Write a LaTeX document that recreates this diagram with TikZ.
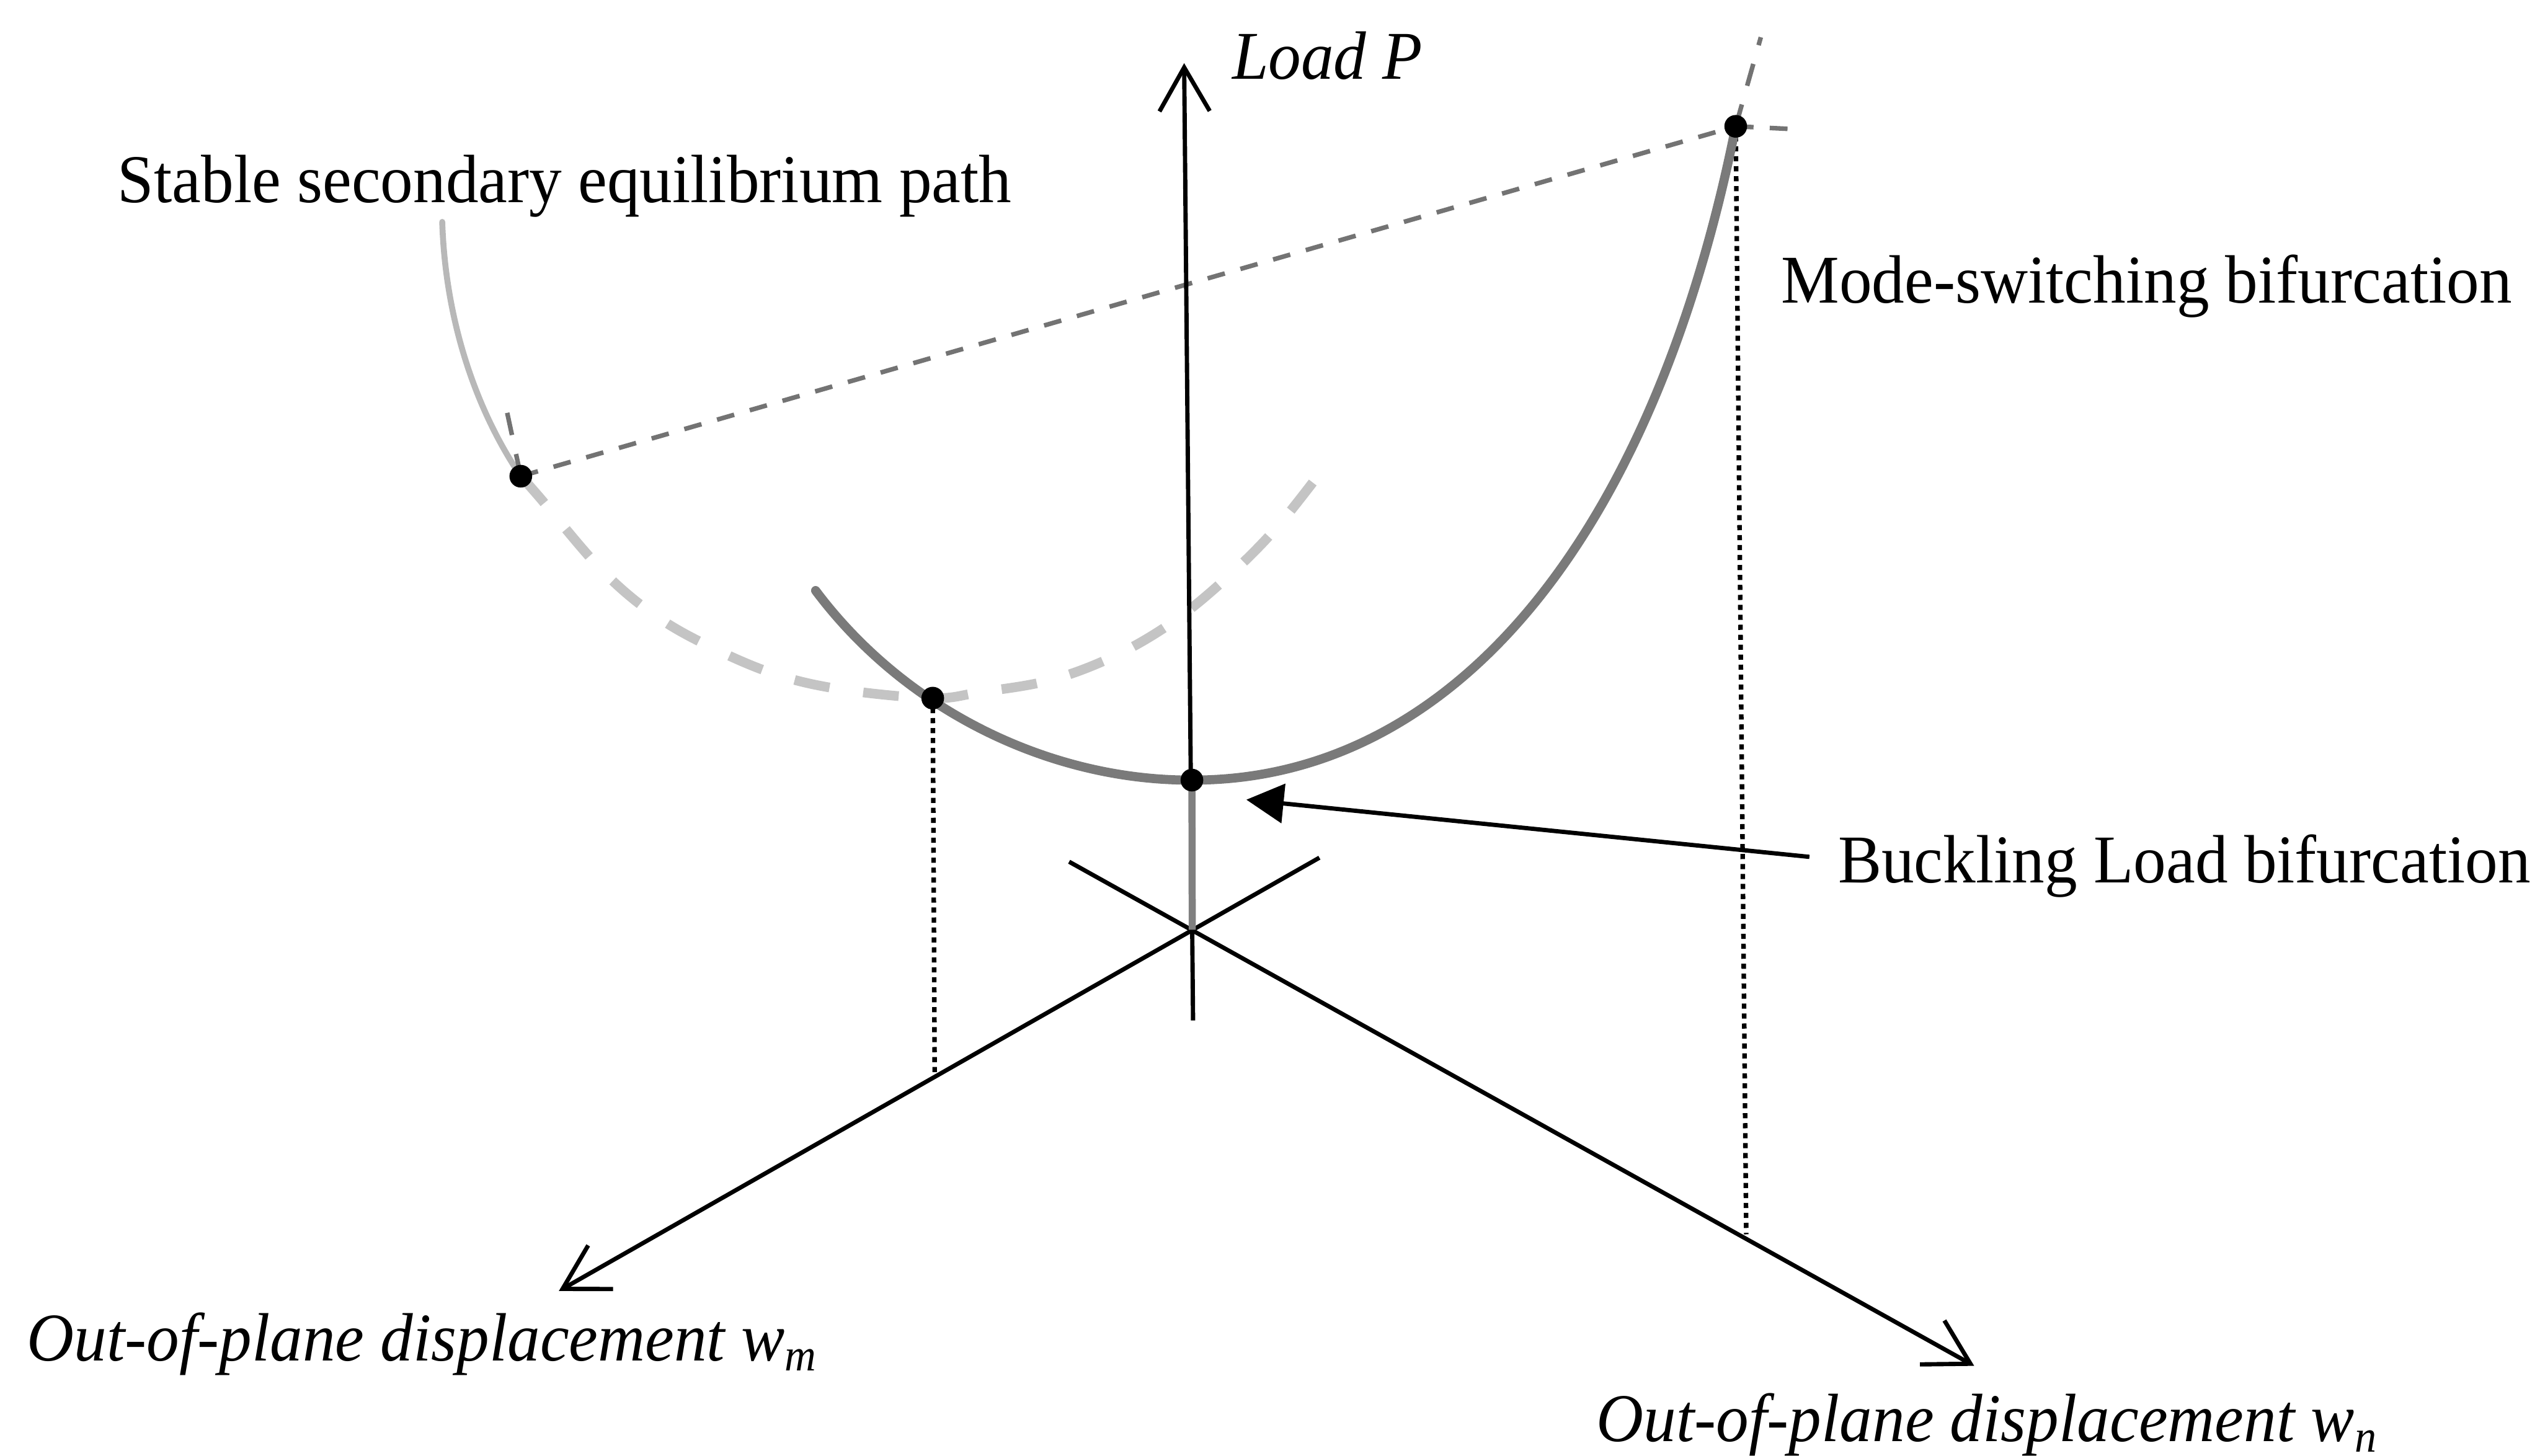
\documentclass[tikz,border=0pt]{standalone}
\usepackage{fontspec}
\setmainfont{Liberation Serif}[FakeStretch=0.955]
\usetikzlibrary{arrows.meta}
\begin{document}
\begin{tikzpicture}[x=0.01cm,y=-0.01cm,
  lbl/.style={font=\fontsize{12}{14}\selectfont, inner sep=0pt, anchor=base west},
  axisline/.style={line width=0.75pt, black},
  openarrow/.style={-{Straight Barb[length=0.27cm,width=0.31cm,line width=0.75pt]}},
  mainpath/.style={line width=1.6pt, black!52, line cap=round},
  unstable/.style={line width=1.7pt, black!23, dash pattern=on 0.22cm off 0.21cm},
  stablearc/.style={line width=1.05pt, black!28, line cap=round},
  chord/.style={line width=0.8pt, black!55, dash pattern=on 0.11cm off 0.10cm},
  tangent/.style={line width=0.8pt, black!55, dash pattern=on 0.14cm off 0.12cm},
  proj/.style={line width=0.8pt, black, dash pattern=on 0.9pt off 0.85pt},
  dot/.style={circle, fill=black, inner sep=0pt, minimum size=0.14cm}
]
\useasboundingbox (0,0) rectangle (1568,898.6);

% key points
\coordinate (a) at (321.5,294);
\coordinate (b) at (575.8,431);
\coordinate (c) at (735.8,481.6);
\coordinate (d) at (1071.5,78);
\coordinate (O) at (736,574);
\coordinate (Ptop) at (731,39);
\coordinate (Pbot) at (736.5,630);
\coordinate (WmEnd) at (814.5,529.5);
\coordinate (WmTip) at (345,797);
\coordinate (WnEnd) at (660,532);
\coordinate (WnTip) at (1218.7,843.2);
\coordinate (bfoot) at (577,663);
\coordinate (dfoot) at (1078,762);
\coordinate (ctip) at (769.4,493.7);
\coordinate (arcTop) at (273,137);
\coordinate (aTan) at (312.5,252);
\coordinate (dTanUp) at (1087,23);
\coordinate (dTanRight) at (1113,80);
\coordinate (mainStart) at (503.5,364.6);

% labels
\node[lbl] (loadP) at (760,49) {\itshape Load P};
\node[lbl] (stable) at (72,125) {Stable secondary equilibrium path};
\node[lbl] (mode) at (1099,187) {Mode-switching bifurcation};
\node[lbl] (buck) at (1134,545) {Buckling Load bifurcation};
\node[lbl] (wm) at (16,840) {\itshape Out-of-plane displacement w\textsubscript{m}};
\node[lbl] (wn) at (985,890) {\itshape Out-of-plane displacement w\textsubscript{n}};

% stable secondary path (light arc)
\draw[stablearc] (arcTop) .. controls (275,200) and (295,255) .. (a);

% unstable (dashed light) path
\draw[unstable] plot[smooth, tension=0.6] coordinates {(a) (332.7,306.6) (372,352.5) (406,381) (442,401) (481,417) (522,426) (b) (604.7,427.4) (648,420) (688,405) (724,384) (757,357) (787,327) (814.5,292.5)};

% chord and tangents
\draw[chord] (a) -- (d);
\draw[tangent] (a) -- (aTan);
\draw[tangent] (d) -- (dTanUp);
\draw[chord] (d) -- (dTanRight);

% projections
\draw[proj] (b) -- (bfoot);
\draw[proj] (d) -- (dfoot);

% axes
\draw[axisline, openarrow] (Pbot) -- (Ptop);
\draw[axisline, openarrow] (WmEnd) -- (WmTip);
\draw[axisline, openarrow] (WnEnd) -- (WnTip);

% gray segment on load axis
\draw[line width=1.25pt, black!50] (c) -- (O);

% main equilibrium path
\draw[mainpath] (mainStart) .. controls (560,440) and (650,482) .. (c)
  .. controls (895,482) and (1020,335) .. (d);

% buckling arrow
\draw[line width=0.75pt, -{Triangle[length=0.23cm,width=0.24cm]}] ([xshift=-0.17cm,yshift=0.16cm]buck.base west) -- (ctip);

% dots
\node[dot] (A) at (a) {};
\node[dot] (B) at (b) {};
\node[dot] (C) at (c) {};
\node[dot] (D) at (d) {};
\end{tikzpicture}
\end{document}
